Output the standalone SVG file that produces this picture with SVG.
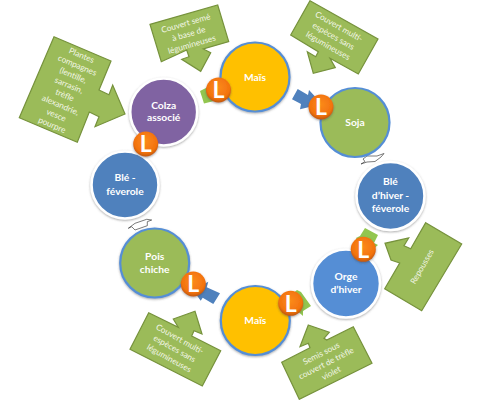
<svg xmlns="http://www.w3.org/2000/svg" width="500" height="400" viewBox="0 0 500 400">
<style>
.call{fill:#9bbb59;stroke:#76923c;stroke-width:1.2;stroke-linejoin:miter}
.ct{font-family:Lato,"Open Sans",sans-serif;font-size:8.3px;fill:#f2f6e6;text-anchor:middle}
.nt{font-family:Lato,"Open Sans",sans-serif;font-size:10.3px;font-weight:700;fill:#fff;text-anchor:middle}
.lt{font-family:Lato,"Open Sans",sans-serif;font-size:23px;font-weight:700;fill:#fff;text-anchor:middle}
.ring{stroke:#fff;stroke-width:2.6;filter:url(#sh)}
.blue{stroke:#558ed5;stroke-width:2.2}
.bd{fill:url(#lg);filter:url(#sb)}
.ga{fill:#92c64f}
.ba{fill:#4f81bd}
.wa{fill:#fff;stroke:#222;stroke-width:.6}
</style>
<defs>
<radialGradient id="lg" cx=".5" cy=".4" r=".62"><stop offset="0" stop-color="#fb8a1a"/><stop offset=".72" stop-color="#f3730f"/><stop offset="1" stop-color="#b95408"/></radialGradient>
<filter id="sh" x="-15%" y="-15%" width="130%" height="130%"><feDropShadow dx="0" dy="1" stdDeviation="1" flood-color="#555" flood-opacity=".5"/></filter>
<filter id="sb" x="-20%" y="-20%" width="140%" height="140%"><feDropShadow dx="0" dy="1" stdDeviation=".8" flood-color="#444" flood-opacity=".5"/></filter>
</defs>
<g id="connectors">
<polygon class="ga" points="200,91 212,85 218,100 204,103.5"/>
<polygon class="ba" points="297.7,89 308,95 309,90 322,104 300,109.3 301,104 292,99.3"/>
<polygon class="wa" points="361,164 367,162 375,161.5 381,157 384,153.5 377,156 367,156 363,159 365,161.5"/>
<polygon class="ga" points="360,236 365,228 378,235 374,243 378,245 366,255 356,238"/>
<polygon class="ga" points="301,292 311,306 303,311 303,316 285,300 297,290"/>
<polygon class="ba" points="220,293.3 213.3,304 202.7,297.7 200.7,300.7 193,290 208.3,281.7 206.7,287.3"/>
<polygon class="wa" points="128.3,228.3 135,223.3 146.7,219.3 151.7,220 147.3,221.7 147.3,225.7 135,230 131.7,226.7"/>
</g>
<g id="callout-plantes">
<polygon class="call" points="54,36.7 111,61 99,90 109,94.7 112.7,85 125,114 95,126.7 99,116.7 89.3,112 77.3,142.3 19.3,117.7"/>
<text class="ct" transform="translate(80.500,58) rotate(23)"><tspan x="0" y="0">Plantes</tspan><tspan x="0" dy="10.8">compagnes</tspan><tspan x="0" dy="10.8">(lentille,</tspan><tspan x="0" dy="10.8">sarrasin,</tspan><tspan x="0" dy="10.8">trèfle</tspan><tspan x="0" dy="10.8">alexandrie,</tspan><tspan x="0" dy="10.8">vesce</tspan><tspan x="0" dy="10.8">pourpre</tspan></text>
</g>
<g id="callout-legumineuses">
<polygon class="call" points="150,24.3 217.7,5 228.7,41.7 203.3,49 210.7,52.7 200.7,71.3 181.7,59.3 189,56.7 186.7,50 161.3,61.7"/>
<text class="ct" transform="translate(186.500,26) rotate(-16)"><tspan x="0" y="0">Couvert semé</tspan><tspan x="0" dy="11">à base de</tspan><tspan x="0" dy="11">légumineuses</tspan></text>
</g>
<g id="callout-multi-haut">
<polygon class="call" points="310,0.7 378,39 358.3,74 330,58.3 335.3,67.7 313.3,73.3 307.3,51.7 315.7,56.7 318.3,51.7 290.700,35"/>
<text class="ct" transform="translate(337.500,29) rotate(29.5)"><tspan x="0" y="0">Couvert multi-</tspan><tspan x="0" dy="11">espèces sans</tspan><tspan x="0" dy="11">légumineuses</tspan></text>
</g>
<g id="callout-repousses">
<polygon class="call" points="425.7,222.7 461.7,244 421.7,310.7 384.7,288.7 399.7,263 391,260 385,243.3 408.7,238 404,245.7 410.7,248.7"/>
<text class="ct" transform="translate(424.500,268) rotate(-60)">Repousses</text>
</g>
<g id="callout-semis">
<polygon class="call" points="308.3,325 329.3,332.3 324,338.3 326.7,340 353.3,326.7 372,363.3 299.3,399.3 281.7,362.3 310,347.7 308.3,343.3 300,346.7"/>
<text class="ct" transform="translate(322.500,356) rotate(-27)"><tspan x="0" y="0">Semis sous</tspan><tspan x="0" dy="11">couvert de trèfle</tspan><tspan x="0" dy="11">violet</tspan></text>
</g>
<g id="callout-multi-bas">
<polygon class="call" points="148.7,312.7 178.3,327.3 173.3,319 195,311.3 202,334 194,330.7 191.7,336 220.7,350.7 202.3,386 130,349.3"/>
<text class="ct" transform="translate(178.500,341.500) rotate(29)"><tspan x="0" y="0">Couvert multi-</tspan><tspan x="0" dy="11">espèces sans</tspan><tspan x="0" dy="11">légumineuses</tspan></text>
</g>
<g id="node-colza"><circle class="ring" cx="163.7" cy="112" r="33.5" fill="#8064a2"/><text class="nt" x="163.7" y="109">Colza</text><text class="nt" x="163.7" y="120.500">associé</text></g>
<g id="node-ble-feverole"><circle class="ring" cx="125" cy="185" r="33.5" fill="#4f81bd"/><text class="nt" x="125" y="181">Blé -</text><text class="nt" x="125" y="194.500">féverole</text></g>
<g id="node-mais-haut"><circle class="blue" cx="255" cy="77" r="34.5" fill="#ffc000" filter="url(#sh)"/><text class="nt" x="255" y="80.500">Maïs</text></g>
<g id="node-soja"><circle class="blue" cx="355" cy="122.500" r="34.5" fill="#9bbb59"/><text class="nt" x="355" y="126">Soja</text></g>
<g id="node-ble-hiver"><circle class="ring" cx="390.500" cy="196" r="34" fill="#4f81bd"/><text class="nt" x="390.500" y="185">Blé</text><text class="nt" x="390.500" y="198.500">d’hiver -</text><text class="nt" x="390.500" y="212">féverole</text></g>
<g id="node-orge"><circle class="ring" cx="346" cy="283.500" r="34" fill="#558ed5"/><text class="nt" x="346" y="280">Orge</text><text class="nt" x="346" y="293">d’hiver</text></g>
<g id="node-mais-bas"><circle class="blue" cx="255.300" cy="320.500" r="34.5" fill="#ffc000" filter="url(#sh)"/><text class="nt" x="255.300" y="324">Maïs</text></g>
<g id="node-pois"><circle class="blue" cx="154.700" cy="263" r="34.5" fill="#9bbb59" filter="url(#sh)"/><text class="nt" x="154.700" y="259.500">Pois</text><text class="nt" x="154.700" y="272.500">chiche</text></g>
<g id="badge-1"><circle class="bd" cx="218.500" cy="90" r="12.500"/><text class="lt" x="218.500" y="98.300">L</text></g>
<g id="badge-2"><circle class="bd" cx="145.700" cy="144" r="12.500"/><text class="lt" x="145.700" y="152.300">L</text></g>
<g id="badge-3"><circle class="bd" cx="321" cy="107" r="12.500"/><text class="lt" x="321" y="115.300">L</text></g>
<g id="badge-4"><circle class="bd" cx="363.300" cy="249.300" r="12.500"/><text class="lt" x="363.300" y="257.600">L</text></g>
<g id="badge-5"><circle class="bd" cx="290.700" cy="303.300" r="12.500"/><text class="lt" x="290.700" y="311.600">L</text></g>
<g id="badge-6"><circle class="bd" cx="193.300" cy="284" r="12.500"/><text class="lt" x="193.300" y="292.300">L</text></g>
</svg>
